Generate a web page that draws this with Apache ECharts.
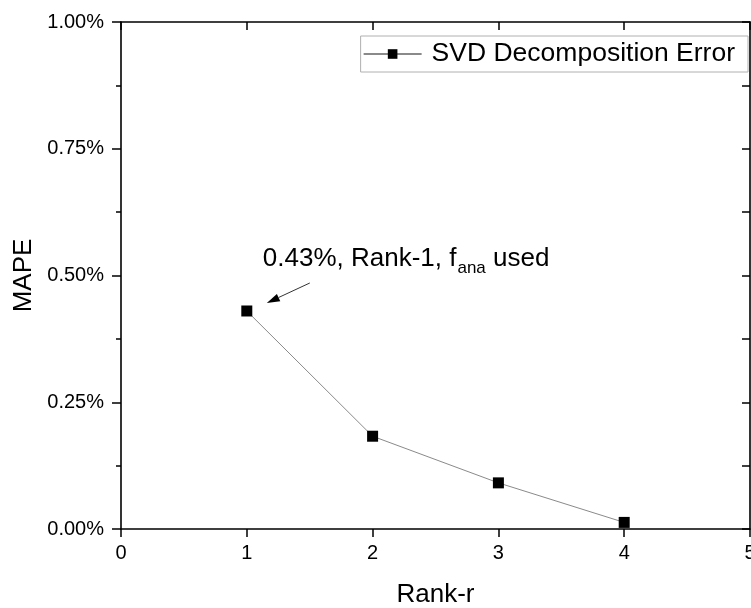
<!DOCTYPE html>
<html>
<head>
<meta charset="utf-8">
<script src="https://cdn.jsdelivr.net/npm/echarts@6/dist/echarts.min.js"></script>
<style>
  html, body { margin: 0; padding: 0; background: #fff; }
  #chart { width: 751px; height: 608px; }
</style>
</head>
<body>
<div id="chart"></div>
<script>
// Rank of the truncated SVD and the resulting mean absolute percentage error (%)
const ranks = [1, 2, 3, 4];
const mape = [0.43, 0.183, 0.091, 0.013];
const xTicks = [0, 1, 2, 3, 4, 5];
const yTicks = [0, 0.25, 0.5, 0.75, 1.0];
const seriesName = 'SVD Decomposition Error';

const FONT = '"Liberation Sans", Arial, sans-serif';
const chart = echarts.init(document.getElementById('chart'), null, { renderer: 'canvas' });

const axisLine = { show: true, onZero: false, lineStyle: { color: '#000', width: 1.6 } };

chart.setOption({
  backgroundColor: '#fff',
  animation: false,
  grid: { left: 121, right: 1, top: 22, bottom: 79, containLabel: false, outerBoundsMode: 'none' },
  legend: {
    data: [seriesName],
    right: 3,
    top: 36,
    padding: [4, 13, 4, 2],
    itemWidth: 58,
    itemHeight: 12,
    borderColor: '#b0b0b0',
    borderWidth: 1,
    textStyle: { fontFamily: FONT, fontSize: 26.5, color: '#000', padding: [0, 0, 0, 5], lineHeight: 28 }
  },
  xAxis: [
    {
      type: 'value', position: 'bottom',
      min: xTicks[0], max: xTicks[xTicks.length - 1], interval: 1,
      name: 'Rank-r', nameLocation: 'middle', nameGap: 53,
      nameTextStyle: { fontFamily: FONT, fontSize: 26, color: '#000' },
      axisLine: axisLine,
      axisTick: { show: true, inside: false, length: 8, lineStyle: { color: '#000', width: 1.5 } },
      axisLabel: { margin: 14, fontFamily: FONT, fontSize: 20, color: '#000' },
      splitLine: { show: false }
    },
    {
      type: 'value', position: 'top',
      min: xTicks[0], max: xTicks[xTicks.length - 1], interval: 1,
      axisLine: axisLine,
      axisTick: { show: true, inside: true, length: 8, lineStyle: { color: '#000', width: 1.5 } },
      axisLabel: { show: false },
      splitLine: { show: false }
    }
  ],
  yAxis: [
    {
      type: 'value', position: 'left',
      min: yTicks[0], max: yTicks[yTicks.length - 1], interval: 0.25,
      name: 'MAPE', nameLocation: 'middle', nameGap: 82,
      nameTextStyle: { fontFamily: FONT, fontSize: 26, color: '#000' },
      axisLine: axisLine,
      axisTick: { show: true, inside: false, length: 9, lineStyle: { color: '#000', width: 1.5 } },
      minorTick: { show: true, splitNumber: 2, length: 5, lineStyle: { color: '#000', width: 1.5 } },
      axisLabel: {
        margin: 17, fontFamily: FONT, fontSize: 20, color: '#000',
        formatter: v => v.toFixed(2) + '%'
      },
      splitLine: { show: false }
    },
    {
      type: 'value', position: 'right',
      min: yTicks[0], max: yTicks[yTicks.length - 1], interval: 0.25,
      axisLine: axisLine,
      axisTick: { show: true, inside: true, length: 8, lineStyle: { color: '#000', width: 1.5 } },
      minorTick: { show: true, splitNumber: 2, length: 8, lineStyle: { color: '#000', width: 1.5 } },
      axisLabel: { show: false },
      splitLine: { show: false }
    }
  ],
  series: [
    {
      name: seriesName,
      type: 'line',
      xAxisIndex: 0, yAxisIndex: 0,
      data: ranks.map((r, i) => [r, mape[i]]),
      symbol: 'rect',
      symbolSize: 11,
      itemStyle: { color: '#000' },
      lineStyle: { color: '#8a8a8a', width: 1 },
      z: 3
    }
  ]
});

// Callout for the rank-1 point: arrow plus text with an "ana" subscript
function measure(text, size) {
  const ctx = document.createElement('canvas').getContext('2d');
  ctx.font = size + 'px ' + FONT;
  return ctx.measureText(text).width;
}

const p = chart.convertToPixel({ xAxisIndex: 0, yAxisIndex: 0 }, [ranks[0], mape[0]]);
const tip = [p[0] + 20, p[1] - 8];
const tail = [p[0] + 63, p[1] - 28];
const ang = Math.atan2(tip[1] - tail[1], tip[0] - tail[0]);
const headLen = 13, headHalf = 4;
const base = [tip[0] - headLen * Math.cos(ang), tip[1] - headLen * Math.sin(ang)];
const nx = -Math.sin(ang), ny = Math.cos(ang);

const mainText = mape[0].toFixed(2) + '%, Rank-1, f';
const subText = 'ana';
const tailText = ' used';
const mainSize = 26, subSize = 17;
const x0 = p[0] + 16, baseY = p[1] - 43;
const w1 = measure(mainText, mainSize);
const w2 = measure(subText, subSize);

const txt = (t, x, y, size) => ({
  type: 'text', x: x, y: y, z: 10,
  style: { text: t, fontFamily: FONT, fontSize: size, fill: '#000', verticalAlign: 'middle', align: 'left' }
});

chart.setOption({
  graphic: [
    {
      type: 'line', z: 10,
      shape: { x1: tail[0], y1: tail[1], x2: base[0], y2: base[1] },
      style: { stroke: '#333', lineWidth: 1 }
    },
    {
      type: 'polygon', z: 10,
      shape: { points: [tip, [base[0] + nx * headHalf, base[1] + ny * headHalf], [base[0] - nx * headHalf, base[1] - ny * headHalf]] },
      style: { fill: '#000' }
    },
    txt(mainText, x0, baseY - 0.34 * mainSize, mainSize),
    txt(subText, x0 + w1 + 1, baseY + 6 - 0.34 * subSize, subSize),
    txt(tailText, x0 + w1 + 1 + w2, baseY - 0.34 * mainSize, mainSize)
  ]
});
</script>
</body>
</html>
